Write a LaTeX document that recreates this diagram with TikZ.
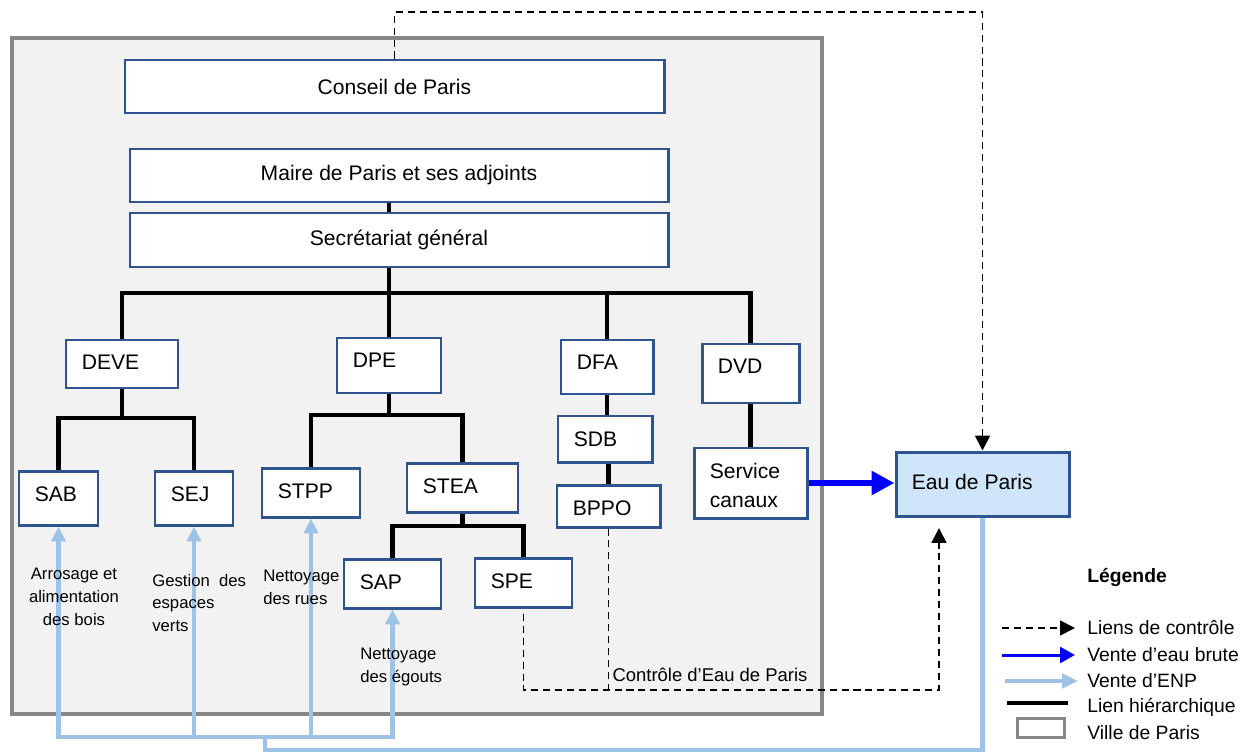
\documentclass[tikz,border=0pt]{standalone}
\usepackage{fontspec}
\setmainfont{Liberation Sans}
\usetikzlibrary{arrows.meta,positioning,calc}
\definecolor{unitblue}{HTML}{2E5590}
\definecolor{villegray}{HTML}{878787}
\definecolor{villefill}{HTML}{F2F2F2}
\definecolor{enpblue}{HTML}{9DC3E6}
\definecolor{eaufill}{HTML}{CFE5F9}
\newcommand{\boxfont}{\fontsize{12}{16.4}\selectfont}
\newcommand{\notefont}{\fontsize{9.5}{13}\selectfont}
\newcommand{\legfont}{\fontsize{11}{13}\selectfont}
\tikzset{
    ville style/.style={draw=villegray,fill=villefill,line width=2.6pt},
    unit/.style 2 args={draw=unitblue,fill=white,line width=1.7pt,inner sep=0pt,minimum width=#1*0.02cm,minimum height=#2*0.02cm},
    tag/.style={anchor=north west,inner sep=0pt,xshift=0.34cm,yshift=-0.33cm,font=\boxfont,align=left},
    hier/.style={line width=2.8pt,black},
    ctrlline/.style={dash pattern=on 4pt off 2.8pt,line width=1pt},
    ctrl/.style={ctrlline,-{Triangle[length=8.5pt,width=8.5pt]}},
    brute/.style={-{Triangle[length=13pt,width=13pt]},blue,line width=3.4pt},
    enpline/.style={enpblue,line width=2.3pt},
    enp/.style={enpline,-{Triangle[length=8.5pt,width=8pt]}},
    note/.style={font=\notefont,inner sep=0pt},
    legend/.style={font=\legfont,anchor=west,inner sep=0pt},
}
\tikzstyle{every node}=[font=\boxfont]

\begin{document}
\begin{tikzpicture}[x=0.02cm,y=-0.02cm]
        \useasboundingbox (0,0) rectangle (1258,754);
        \draw[ville style] (12,38) rectangle (822,714);

        \node[unit={539}{53}] (conseil) at (394.5,86.5) {Conseil de Paris};
        \node[unit={538}{53}] (maire) at (399,175.5) {Maire de Paris et ses adjoints};
        \node[unit={538}{54}] (secr) at (399,240) {Secrétariat général};

        \node[unit={112}{48},label={[tag]north west:DEVE}] (deve) at (122,364) {};
        \node[unit={104}{55},label={[tag]north west:DPE}] (dpe) at (389,365.5) {};
        \node[unit={92}{54},label={[tag]north west:DFA}] (dfa) at (607,367) {};
        \node[unit={97}{59},label={[tag]north west:DVD}] (dvd) at (750.5,373.5) {};
        \node[unit={94}{46},label={[tag]north west:SDB}] (sdb) at (605,439) {};
        \node[unit={103}{42},label={[tag]north west:BPPO}] (bppo) at (608.5,506) {};
        \node[unit={113}{70},label={[tag]north west:Service\\canaux}] (canaux) at (750.5,483) {};
        \node[unit={111}{49},label={[tag]north west:STEA}] (stea) at (462.5,487.5) {};
        \node[unit={97}{49},label={[tag]north west:SPE}] (spe) at (523.5,582.5) {};
        \node[unit={97}{49},label={[tag]north west:SAP}] (sap) at (392.5,583.5) {};
        \node[unit={79}{54},label={[tag]north west:SAB}] (sab) at (58.5,498) {};
        \node[unit={78}{54},label={[tag]north west:SEJ}] (sej) at (194,498) {};
        \node[unit={98}{49},label={[tag]north west:STPP}] (stpp) at (311,492.5) {};
        \node[unit={173}{64},fill=eaufill,label={[tag,yshift=-0.14cm]north west:Eau de Paris}] (eau) at (982.5,484) {};

        \coordinate (bar) at (0,293);
        \coordinate (devebar) at (0,418);
        \coordinate (dpebar) at (0,415);
        \coordinate (steabar) at (0,526);
        \draw[hier] (maire.south -| dpe.north) -- (secr.north -| dpe.north);
        \draw[hier] (secr.south -| dpe.north) -- (dpe.north);
        \draw[hier] (deve.north) |- (dvd.north |- bar) -- (dvd.north);
        \draw[hier] (dfa.north) -- (dfa.north |- bar);
        \draw[hier] (deve.south) -- (deve.south |- devebar);
        \draw[hier] (sab.north) |- (sej.north |- devebar) -- (sej.north);
        \draw[hier] (dpe.south) -- (dpe.south |- dpebar);
        \draw[hier] (stpp.north) |- (stea.north |- dpebar) -- (stea.north);
        \draw[hier] (stea.south) -- (stea.south |- steabar);
        \draw[hier] (sap.north) |- (spe.north |- steabar) -- (spe.north);
        \draw[hier] (dfa.south) -- (dfa.south |- sdb.north);
        \draw[hier] (bppo.north) -- (bppo.north |- sdb.south);
        \draw[hier] (dvd.south) -- (canaux.north);

        \draw[brute] (canaux.east) -- (canaux.east -| eau.west);

        \coordinate (ctrltop) at (0,12);
        \coordinate (ctrlbot) at (0,690);
        \coordinate (ctrlend) at (939,528);
        \draw[ctrl] (conseil.north) |- (eau.north |- ctrltop) -- (eau.north);
        \draw[ctrl,shorten <=3pt] (spe.south) |- (ctrlend |- ctrlbot) -- (ctrlend);
        \draw[ctrlline] (bppo.south) -- (bppo.south |- ctrlbot);
        \node[note,font=\fontsize{10.5}{12}\selectfont] (ctrllabel) at (710,675) {Contrôle d’Eau de Paris};

        \coordinate (enpbase) at (265,750);
        \coordinate (enpknot) at (265,737);
        \draw[enpline] (eau.south) |- (enpbase) -- (enpknot);
        \draw[enp] (enpknot) -| (sab.south);
        \draw[enp] (enpknot) -| (sej.south);
        \draw[enp] (enpknot) -| (stpp.south);
        \draw[enp] (enpknot) -| (sap.south);

        \node[note,align=center] (arrosage) at (74,597) {Arrosage et\\alimentation\\des bois};
        \node[note,align=left,anchor=west] (gestion) at (152,603) {Gestion\ \ des\\espaces\\verts};
        \node[note,align=left,anchor=west] (rues) at (263,587) {Nettoyage\\des rues};
        \node[note,align=left,anchor=west] (egouts) at (360,667) {Nettoyage\\des égouts};

        \node[legend,font=\bfseries\legfont] (legtitle) at (1087,577) {Légende};
        \node[legend] (lgctrl) at (1087,628) {Liens de contrôle};
        \node[legend] (lgbrute) at (1087,655) {Vente d’eau brute};
        \node[legend] (lgenp) at (1087,681) {Vente d’ENP};
        \node[legend] (lghier) at (1087,707) {Lien hiérarchique};
        \node[legend] (lgville) at (1087,733) {Ville de Paris};
        \draw[ctrl] ($(lgctrl.west)+(-85,0)$) -- ($(lgctrl.west)+(-12,0)$);
        \draw[brute,line width=1.7pt,-{Triangle[length=8.5pt,width=9pt]}] ($(lgbrute.west)+(-85,0)$) -- ($(lgbrute.west)+(-12,0)$);
        \draw[enp,-{Triangle[length=9pt,width=8pt]}] ($(lgenp.west)+(-82,0)$) -- ($(lgenp.west)+(-9,0)$);
        \draw[hier] ($(lghier.west)+(-80,-4)$) -- ($(lghier.west)+(-19,-4)$);
        \draw[draw=villegray,fill=white,line width=1.7pt] ($(lgville.west)+(-70,-15)$) rectangle ($(lgville.west)+(-23,4)$);
    \end{tikzpicture}
\end{document}
